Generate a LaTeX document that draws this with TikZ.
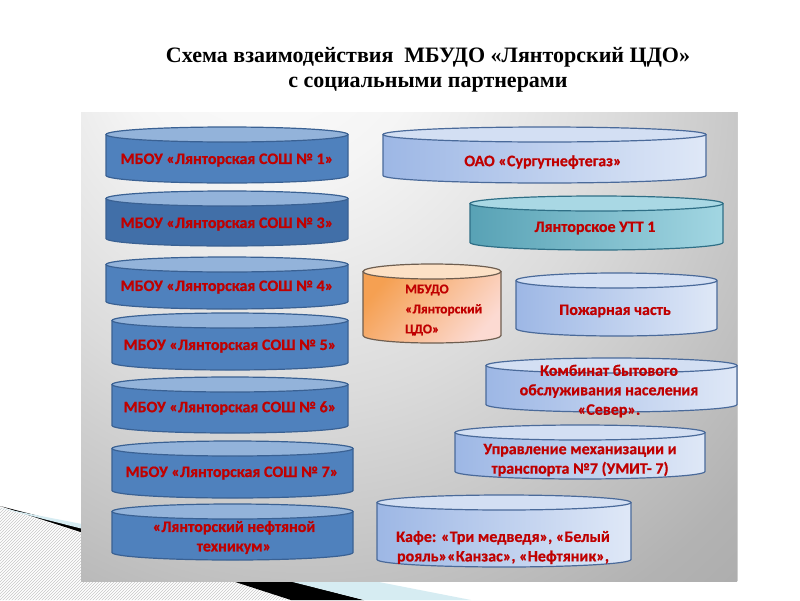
\documentclass[tikz,border=0pt]{standalone}
\usepackage{fontspec}
\newfontfamily\carl[FakeBold=0.6]{Carlito Bold}
\newfontfamily\ttlfont{Liberation Serif}
\usetikzlibrary{patterns}
\definecolor{txtred}{HTML}{C00000}
\definecolor{cblue}{HTML}{4F81BD}
\definecolor{cbluedk}{HTML}{416FA8}
\definecolor{cbluetop}{HTML}{93B3DA}
\definecolor{cblueln}{HTML}{3A6193}
\definecolor{lbL}{HTML}{9DB7E5}
\definecolor{lbR}{HTML}{DFE8F7}
\definecolor{lbtop}{HTML}{D3DFF3}
\definecolor{lbln}{HTML}{4A6A9A}
\definecolor{tlL}{HTML}{58A2B5}
\definecolor{tlR}{HTML}{A2D6E2}
\definecolor{tltop}{HTML}{A9D8E4}
\definecolor{tlln}{HTML}{2F6F86}
\definecolor{orA}{HTML}{F5A052}
\definecolor{orB}{HTML}{FCDAD2}
\definecolor{ortop}{HTML}{FCE1C6}
\definecolor{orln}{HTML}{6E5E50}
\definecolor{swblue}{HTML}{D6ECF2}
\pgfdeclareradialshading{panelshade}{\pgfpoint{-12bp}{28bp}}{%
  color(0bp)=(white); color(12bp)=(white!96!black); color(25bp)=(white!86!black);
  color(42bp)=(white!70!black); color(62bp)=(white!60!black); color(100bp)=(white!54!black)}
% #1 x1, #2 ytop, #3 x2, #4 ybottom, #5 body style, #6 top style, #7 line colour
\newcommand\drawcyl[7]{%
  \pgfmathsetmacro\cxx{(#1+#3)/2}%
  \pgfmathsetmacro\rxx{(#3-#1)/2}%
  \pgfmathsetmacro\yta{-(#2)-7.5}%
  \pgfmathsetmacro\ybb{-(#4)+7.5}%
  \path[#5] (#1,\yta) -- (#1,\ybb) arc[start angle=180,end angle=360,x radius=\rxx pt,y radius=7.5pt]
     -- (#3,\yta) arc[start angle=0,end angle=-180,x radius=\rxx pt,y radius=7.5pt] -- cycle;
  \path[#6] (\cxx,\yta) ellipse[x radius=\rxx pt,y radius=7.5pt];
  \draw[#7,line width=1.2pt,line join=round] (#1,\yta) -- (#1,\ybb)
     arc[start angle=180,end angle=360,x radius=\rxx pt,y radius=7.5pt] -- (#3,\yta);
  \draw[#7,line width=1.2pt] (\cxx,\yta) ellipse[x radius=\rxx pt,y radius=7.5pt];
}
\begin{document}
\begin{tikzpicture}[x=1pt,y=1pt,
  ctext/.style={font=\carl\fontsize{16}{19.5}\selectfont,text=txtred,inner sep=0pt,align=center},
  ttl/.style={font=\ttlfont\bfseries\fontsize{22}{25}\selectfont,text=black,inner sep=0pt,align=center},
  bbody/.style={fill=cblue}, bbodydk/.style={fill=cbluedk}, btop/.style={fill=cbluetop},
  lbody/.style={left color=lbL,right color=lbR}, ltop/.style={fill=lbtop},
  tbody/.style={left color=tlL,right color=tlR}, ttop/.style={fill=tltop},
  obody/.style={top color=orA,bottom color=orB,shading angle=50}, otop/.style={fill=ortop}]
\useasboundingbox (0,0) rectangle (800,-600);
\fill[white] (0,0) rectangle (800,-600);
% bottom-left decoration
\fill[pattern=north east lines,pattern color=black!22] (0,-507) -- (291,-600) -- (0,-600) -- cycle;
\fill[black] (0,-506) -- (291,-600) -- (364,-600) -- cycle;
\fill[swblue] (0,-508) -- (364,-600) -- (471,-600) -- cycle;
% panel
\begin{scope}
  \clip (81,-112) rectangle (737,-581);
  \path[shading=panelshade] (81,-18.5) rectangle (737,-674.5);
\end{scope}
\draw[white!80!black,line width=0.6pt] (737,-112) -- (737,-581);
% title
\node[ttl] (title) at (428,-69.5) {Схема взаимодействия \ МБУДО «Лянторский ЦДО»\\с социальными партнерами};
% left column
\drawcyl{106}{127}{348}{183}{bbody}{btop}{cblueln}
\node[ctext] (s1) at (227,-160) {МБОУ «Лянторская СОШ № 1»};
\drawcyl{106}{191}{348}{246}{bbodydk}{btop}{cblueln}
\node[ctext] (s3) at (227,-224) {МБОУ «Лянторская СОШ № 3»};
\drawcyl{106}{257}{348}{309}{bbody}{btop}{cblueln}
\node[ctext] (s4) at (227,-287) {МБОУ «Лянторская СОШ № 4»};
\drawcyl{112}{313}{348}{370}{bbody}{btop}{cblueln}
\node[ctext] (s5) at (230,-346) {МБОУ «Лянторская СОШ № 5»};
\drawcyl{112}{377}{348}{433}{bbody}{btop}{cblueln}
\node[ctext] (s6) at (230,-408) {МБОУ «Лянторская СОШ № 6»};
\drawcyl{112}{441}{353}{498}{bbody}{btop}{cblueln}
\node[ctext] (s7) at (232,-473) {МБОУ «Лянторская СОШ № 7»};
\drawcyl{112}{504}{353}{560}{bbody}{btop}{cblueln}
\node[ctext] (tech) at (234,-537.5) {«Лянторский нефтяной\\техникум»};
% right column
\drawcyl{383}{127}{706}{183}{lbody}{ltop}{lbln}
\node[ctext] (oao) at (543,-162) {ОАО «Сургутнефтегаз»};
\drawcyl{470}{196}{723}{250}{tbody}{ttop}{tlln}
\node[ctext] (utt) at (595,-228) {Лянторское УТТ 1};
\drawcyl{363}{264}{501}{343}{obody}{otop}{orln}
\node[ctext,font=\carl\fontsize{13.5}{20}\selectfont,align=left,anchor=west] (cdo) at (405,-310) {МБУДО\\«Лянторский\\ЦДО»};
\drawcyl{516}{273}{717}{336}{lbody}{ltop}{lbln}
\node[ctext] (fire) at (615,-311) {Пожарная часть};
\drawcyl{486}{358}{737}{412}{lbody}{ltop}{lbln}
\node[ctext] (kbo) at (609,-391) {Комбинат бытового\\обслуживания населения\\«Север».};
\drawcyl{455}{425}{705}{479}{lbody}{ltop}{lbln}
\node[ctext] (umit) at (580,-460) {Управление механизации и\\транспорта №7 (УМИТ- 7)};
\drawcyl{377}{495}{631}{567}{lbody}{ltop}{lbln}
\node[ctext] (cafe) at (503,-547.5) {Кафе: «Три медведя», «Белый\\рояль»«Канзас», «Нефтяник»,};
\end{tikzpicture}
\end{document}
